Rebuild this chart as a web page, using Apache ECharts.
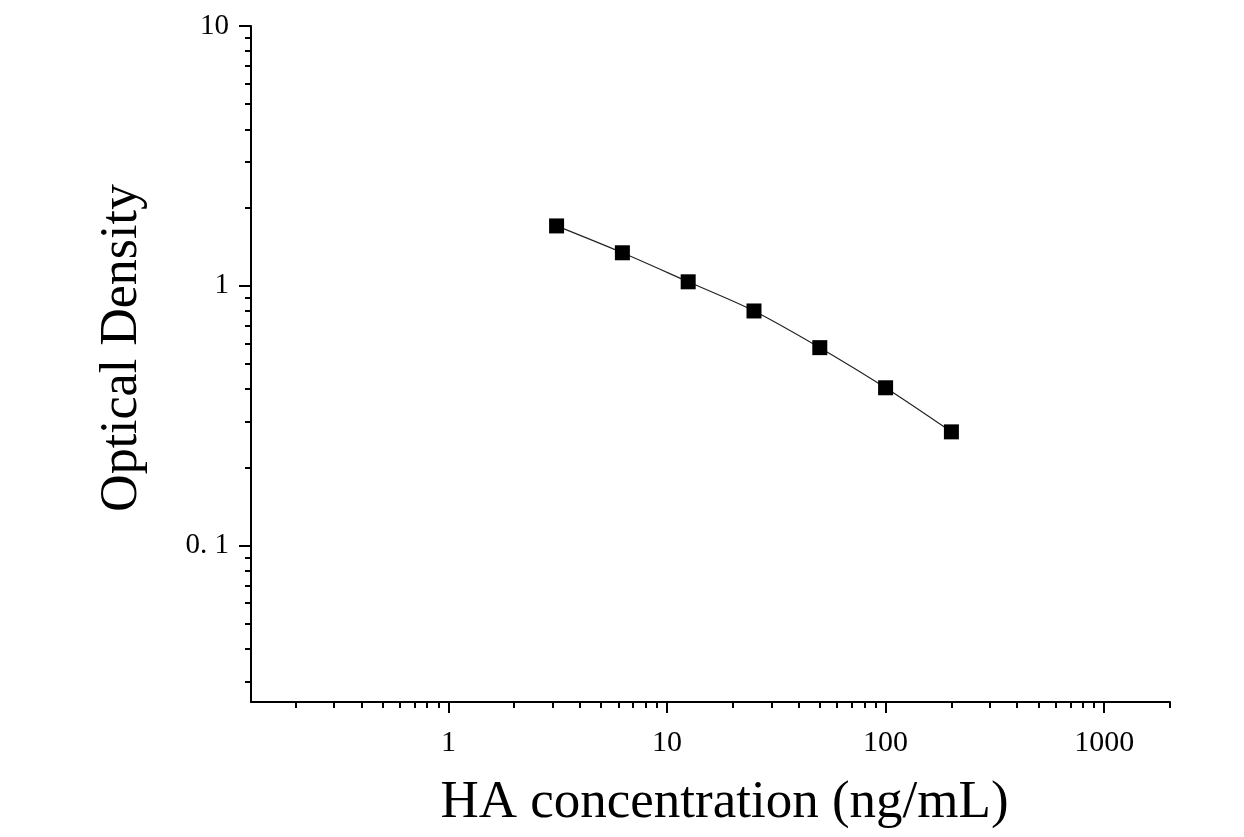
<!DOCTYPE html>
<html>
<head>
<meta charset="utf-8">
<script src="https://cdn.jsdelivr.net/npm/echarts@6/dist/echarts.min.js"></script>
<style>
  html, body { margin: 0; padding: 0; background: #fff; }
  #chart { width: 1244px; height: 837px; }
</style>
</head>
<body>
<div id="chart"></div>
<script>
// standard curve points (concentration -> OD)
const concentration = [3.125, 6.25, 12.5, 25, 50, 100, 200]
const opticalDensity = [1.70, 1.34, 1.036, 0.80, 0.578, 0.405, 0.274]

// log axis ticks
const xMajorTicks = [1, 10, 100, 1000]
const xMinorTicks = [
  0.2, 0.3, 0.4, 0.5, 0.6, 0.7, 0.8, 0.9,
  2, 3, 4, 5, 6, 7, 8, 9,
  20, 30, 40, 50, 60, 70, 80, 90,
  200, 300, 400, 500, 600, 700, 800, 900, 2000,
]
const yMajorTicks = [0.1, 1, 10]
const yMinorTicks = [
  0.03, 0.04, 0.05, 0.06, 0.07, 0.08, 0.09,
  0.2, 0.3, 0.4, 0.5, 0.6, 0.7, 0.8, 0.9,
  2, 3, 4, 5, 6, 7, 8, 9,
]
const yTickLabels = { 0.1: '0. 1', 1: '1', 10: '10' }

const X_RANGE = [0.125, 2000]
const Y_RANGE = [0.025, 10]
const FONT = '"Liberation Serif", "Times New Roman", serif'
const INK = '#000'

const chart = echarts.init(document.getElementById('chart'), null, { renderer: 'canvas' })

const baseX = {
  type: 'log',
  logBase: 10,
  min: X_RANGE[0],
  max: X_RANGE[1],
  splitLine: { show: false },
}
const baseY = {
  type: 'log',
  logBase: 10,
  min: Y_RANGE[0],
  max: Y_RANGE[1],
  splitLine: { show: false },
}

chart.setOption({
  animation: false,
  backgroundColor: '#fff',
  textStyle: { fontFamily: FONT, color: INK },
  grid: { left: 251, right: 74, top: 26, bottom: 135, containLabel: false, outerBoundsMode: 'none' },
  xAxis: [
    {
      ...baseX,
      name: 'HA concentration (ng/mL)',
      nameLocation: 'middle',
      nameGap: 75,
      nameTextStyle: { fontFamily: FONT, fontSize: 53, color: INK, padding: [0, 0, 0, 28] },
      axisLine: { show: true, lineStyle: { color: INK, width: 2 } },
      axisTick: { show: true, inside: false, length: 11, customValues: xMajorTicks,
        lineStyle: { color: INK, width: 2 } },
      axisLabel: { show: true, margin: 26, fontFamily: FONT, fontSize: 30, color: INK,
        customValues: xMajorTicks, formatter: v => String(v) },
    },
    {
      ...baseX,
      position: 'bottom',
      axisLine: { show: false },
      axisTick: { show: true, inside: false, length: 6, customValues: xMinorTicks,
        lineStyle: { color: INK, width: 2 } },
      axisLabel: { show: false },
    },
  ],
  yAxis: [
    {
      ...baseY,
      name: 'Optical Density',
      nameLocation: 'middle',
      nameGap: 103,
      nameTextStyle: { fontFamily: FONT, fontSize: 52, color: INK, padding: [0, 0, 0, 32] },
      axisLine: { show: true, lineStyle: { color: INK, width: 2 } },
      axisTick: { show: true, inside: false, length: 12, customValues: yMajorTicks,
        lineStyle: { color: INK, width: 2 } },
      axisLabel: { show: true, margin: 22, fontFamily: FONT, fontSize: 29, color: INK,
        customValues: yMajorTicks, formatter: v => yTickLabels[v] ?? String(v) },
    },
    {
      ...baseY,
      position: 'left',
      axisLine: { show: false },
      axisTick: { show: true, inside: false, length: 6, customValues: yMinorTicks,
        lineStyle: { color: INK, width: 2 } },
      axisLabel: { show: false },
    },
  ],
  series: [
    {
      type: 'line',
      xAxisIndex: 0,
      yAxisIndex: 0,
      data: concentration.map((c, i) => [c, opticalDensity[i]]),
      smooth: 0.3,
      symbol: 'rect',
      symbolSize: 15,
      itemStyle: { color: INK },
      lineStyle: { color: '#222', width: 1.2 },
    },
  ],
})
</script>
</body>
</html>
